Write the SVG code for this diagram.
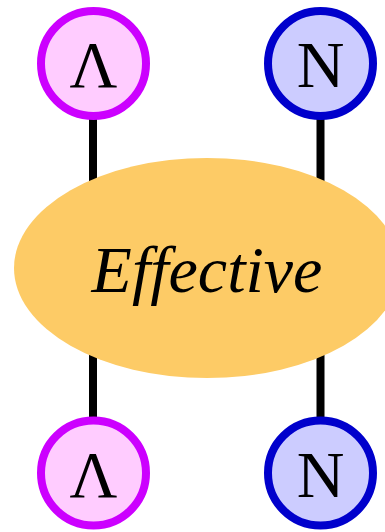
<svg xmlns="http://www.w3.org/2000/svg" width="385" height="532" viewBox="0 0 385 532">
<style>
.edge{stroke:#000;stroke-width:8;fill:none}
.lam{fill:#FFCCFF;stroke:#CC00FF;stroke-width:8}
.nuc{fill:#CCCCFF;stroke:#0000CC;stroke-width:8}
.lbl{font-family:"Liberation Serif","Times New Roman",serif;font-size:66px;fill:#000;text-anchor:middle}
</style>
<rect width="385" height="532" fill="#fff"/>
<g id="connectors">
<line class="edge" x1="93" y1="116" x2="93" y2="420"/>
<line class="edge" x1="320.5" y1="116" x2="320.5" y2="420"/>
</g>
<g id="lambda-top"><circle class="lam" cx="93.5" cy="63.5" r="52.5"/><text class="lbl" x="93.5" y="87">Λ</text></g>
<g id="n-top"><circle class="nuc" cx="320.5" cy="63.5" r="52.5"/><text class="lbl" x="320.5" y="87">N</text></g>
<g id="lambda-bottom"><circle class="lam" cx="93.5" cy="473" r="52.5"/><text class="lbl" x="93.5" y="497">Λ</text></g>
<g id="n-bottom"><circle class="nuc" cx="320.5" cy="473" r="52.5"/><text class="lbl" x="320.5" y="497">N</text></g>
<g id="effective"><ellipse cx="207" cy="268" rx="193" ry="110" fill="#FDCB66"/><text class="lbl" x="207" y="292" font-style="italic">Effective</text></g>
</svg>
